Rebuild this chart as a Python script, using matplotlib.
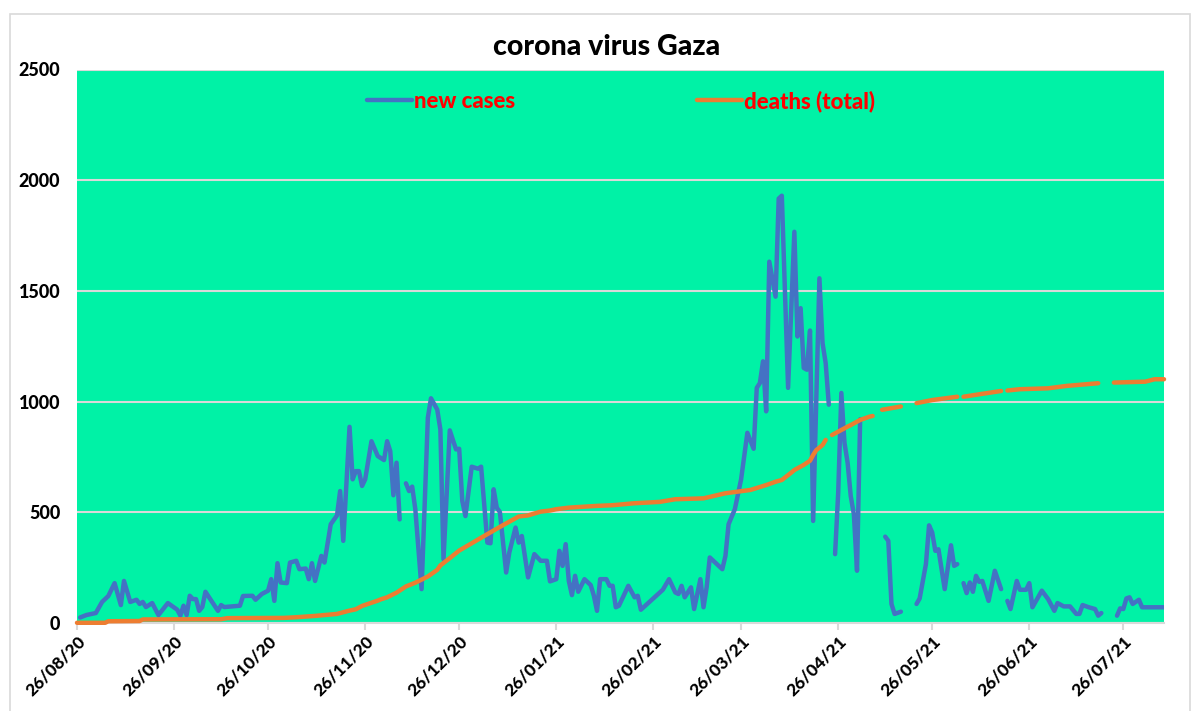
import numpy as np
import pandas as pd
import matplotlib
matplotlib.use("Agg")
import matplotlib.pyplot as plt
import matplotlib.dates as mdates
from matplotlib.patches import Rectangle

plt.rcParams['font.family'] = ['Lato', 'DejaVu Sans']

start = pd.Timestamp("2020-08-26")

# new cases (day offset from 26/08/20, nan = missing day)
case_day = [
    1, 3, 6, 8, 10, 12, 14, 15, 17, 19,
    20, 21, 22, 24, 26, 29, 32, 33, 34, 35,
    36, 37, 38, 39, 40, 41, 45, 46, 47, 52,
    53, 56, 57, 59, 61, 62, 63, 64, 65, 67,
    68, 70, 71, 73, 74, 75, 76, 78, 79, 81,
    83, 84, 85, 87, 88, 89, 90, 91, 92, 94,
    96, 98, 99, 100, 101, 102, 103, 104, 105, 106,
    107, 108, 110, 112, 113, 115, 116, 117, 119, 121,
    122, 123, 124, 126, 128, 129, 131, 132, 133, 134,
    135, 137, 138, 140, 141, 142, 144, 146, 148, 150,
    151, 153, 154, 155, 156, 157, 158, 159, 160, 162,
    164, 165, 166, 167, 169, 170, 171, 172, 173, 176,
    178, 179, 180, 187, 189, 191, 192, 193, 194, 196,
    197, 199, 200, 201, 202, 206, 207, 208, 210, 212,
    214, 216, 217, 218, 219, 220, 221, 223, 224, 225,
    227, 229, 230, 231, 232, 233, 234, 235, 237, 238,
    239, 240, 241, 242, 243, 244, 245, 246, 247, 248,
    249, 250, 251, 258, 259, 260, 261, 263, 264, 268,
    269, 271, 272, 273, 274, 275, 277, 279, 280, 281,
    282, 283, 284, 285, 286, 287, 288, 289, 291, 293,
    295, 296, 297, 298, 300, 301, 303, 304, 305, 308,
    310, 312, 313, 315, 317, 319, 320, 321, 323, 325,
    326, 327, 329, 332, 333, 334, 335, 336, 337, 339,
    340, 347,
]
case_val = [
    25, 36, 45, 95, 122, 180, 81, 190, 95, 105,
    86, 95, 72, 90, 36, 90, 60, 33, 78, 36,
    123, 108, 108, 55, 72, 141, 55, 81, 72, 78,
    122, 123, 105, 131, 146, 198, 100, 270, 183, 180,
    273, 281, 243, 246, 198, 270, 190, 303, 273, 446,
    486, 596, 371, 886, 649, 686, 686, 619, 649, 821,
    754, 736, 821, 776, 577, 724, 468, np.nan, 631, 596,
    616, 514, 153, 927, 1015, 964, 874, 288, 870, 784,
    787, 551, 483, 706, 697, 706, 363, 360, 604, 521,
    501, 228, 318, 431, 363, 393, 206, 311, 281, 281,
    188, 198, 326, 258, 356, 190, 126, 213, 141, 198,
    171, 123, 55, 198, 198, 168, 168, 71, 78, 168,
    116, 123, 60, 150, 198, 138, 131, 168, 116, 161,
    63, 198, 71, 161, 296, 243, 303, 446, 514, 649,
    859, 787, 1062, 1084, 1182, 956, 1632, 1474, 1917, 1930,
    1062, 1767, 1294, 1422, 1152, 1144, 1321, 461, 1557, 1264,
    1174, 986, np.nan, 311, 589, 1039, 814, 724, 573, 491,
    236, 920, np.nan, 390, 371, 86, 41, 51, np.nan, 86,
    111, 266, 441, 409, 326, 333, 153, 351, 258, 266,
    np.nan, 180, 135, 183, 141, 213, 186, 190, 100, 236,
    153, np.nan, 100, 63, 190, 150, 150, 180, 71, 146,
    108, 55, 90, 75, 75, 41, 41, 81, 71, 63,
    33, 45, np.nan, 33, 66, 63, 111, 116, 86, 105,
    71, 71,
]

# deaths (total)
death_day = [
    0, 9, 10, 20, 21, 46, 48, 66, 70, 76,
    83, 87, 89, 91, 96, 97, 99, 102, 105, 108,
    112, 115, 116, 119, 122, 129, 135, 141, 144, 148,
    151, 153, 157, 166, 171, 178, 186, 191, 200, 207,
    215, 220, 223, 225, 228, 229, 232, 234, 235, 236,
    238, 239, 240, 241, 246, 247, 250, 253, 254, 255,
    257, 263, 264, 268, 273, 281, 282, 283, 288, 295,
    296, 297, 301, 310, 316, 326, 329, 331, 341, 344,
    347,
]
death_val = [
    1, 1, 8, 9, 16, 17, 22, 23, 26, 32,
    41, 56, 62, 77, 101, 107, 116, 137, 165, 182,
    210, 240, 260, 293, 327, 385, 434, 481, 486, 503,
    508, 514, 521, 529, 532, 541, 547, 559, 563, 586,
    601, 623, 638, 646, 679, 691, 714, 733, 759, 781,
    804, 827, np.nan, 849, 887, 894, 917, 932, 935, np.nan,
    963, 978, np.nan, 993, 1007, 1022, np.nan, 1022, 1033, 1048,
    np.nan, 1050, 1056, 1060, 1071, 1083, np.nan, 1086, 1090, 1101,
    1101,
]

case_dates = start + pd.to_timedelta(case_day, unit="D")
death_dates = start + pd.to_timedelta(death_day, unit="D")
tick_dates = [start + pd.DateOffset(months=i) for i in range(12)]
end = start + pd.Timedelta(days=347)

fig = plt.figure(figsize=(11.97, 7.11), dpi=100)
fig.patches.append(Rectangle((10 / 1197, -0.01), 1180 / 1197, 1 - 14 / 711 + 0.01,
                             transform=fig.transFigure, fill=False,
                             edgecolor="#D9D9D9", linewidth=1.2))

ax = fig.add_axes([77 / 1197, 1 - 623 / 711, 1087 / 1197, 553.5 / 711])
ax.set_facecolor("#00F2A6")

ax.plot(case_dates, np.array(case_val, dtype=float), color="#4472C4", lw=3.2,
        solid_joinstyle="round", solid_capstyle="round", label="new cases", zorder=3)
ax.plot(death_dates, np.array(death_val, dtype=float), color="#ED7D31", lw=3.2,
        solid_joinstyle="round", solid_capstyle="round", label="deaths (total)",
        zorder=4, clip_on=False)

ax.set_ylim(0, 2500)
ax.set_yticks(range(0, 2501, 500))
ax.set_xlim(start, end)
ax.set_xticks(tick_dates)
ax.xaxis.set_major_formatter(mdates.DateFormatter("%d/%m/%y"))

ax.grid(axis="y", color="#D9D9D9", lw=1.5)
ax.set_axisbelow(True)
for s in ["top", "right", "left"]:
    ax.spines[s].set_visible(False)
ax.spines["bottom"].set_color("#D9D9D9")
ax.spines["bottom"].set_linewidth(1.5)
ax.spines["bottom"].set_zorder(2)

heavy = 900
ax.tick_params(axis="y", length=0, pad=12, labelsize=13)
ax.tick_params(axis="x", length=5, width=1.5, color="#D9D9D9", labelsize=12.5, pad=2)
for lab in ax.get_yticklabels():
    lab.set_fontweight(heavy)
for lab in ax.get_xticklabels():
    lab.set_fontweight(heavy)
    lab.set_rotation(45)
    lab.set_ha("right")
    lab.set_rotation_mode("anchor")

fig.text(607 / 1197, 1 - 47 / 711, "corona virus Gaza", ha="center", va="center",
         fontsize=20.5, fontweight=heavy)

fig.legend(loc="center", bbox_to_anchor=(621 / 1197, 1 - 101 / 711), ncol=2,
           frameon=False, handlelength=2.0, columnspacing=8.2, handletextpad=0.1,
           labelcolor="red", prop={"weight": heavy, "size": 16})

fig.savefig("out.png", dpi=100)
